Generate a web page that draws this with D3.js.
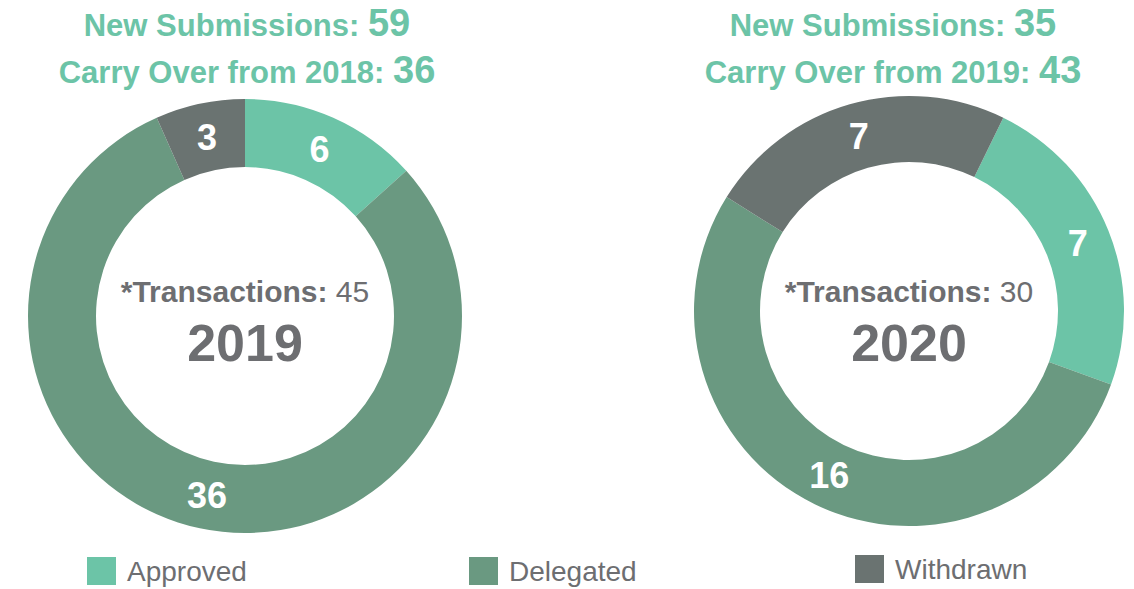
<!DOCTYPE html>
<html>
<head>
<meta charset="utf-8">
<script src="https://cdn.jsdelivr.net/npm/d3@7"></script>
<style>
  body { margin: 0; background: #fff; }
  svg { display: block; font-family: "Liberation Sans", Arial, sans-serif; }
</style>
</head>
<body>
<div id="chart"></div>
<script>
// values
var categories = ['Approved', 'Delegated', 'Withdrawn'];
var years = ['2019', '2020'];
var values2019 = [6, 36, 3];
var values2020 = [7, 16, 7];
var newSubmissions = [59, 35];
var carryOver = [36, 43];
var carryFromYear = ['2018', '2019'];
var transactions = [45, 30];

var colors = ['#6cc4a7', '#6a9981', '#6a7371'];
var green = '#6cc4a7';
var grey = '#6d6e71';

var width = 1134, height = 589;

// per-donut layout: centre, radii, rotation of the first slice, title centre
var donuts = [
  {cx: 245, cy: 316, outer: 217, inner: 149, rotate: 0, titleX: 247, values: values2019},
  {cx: 909, cy: 311, outer: 215, inner: 149, rotate: 26, titleX: 893, values: values2020}
];
// baselines of the centre texts (same for both donuts)
var transY = 302, yearY = 361;

var svg = d3.select('#chart')
  .append('svg')
  .attr('width', width)
  .attr('height', height);

var color = d3.scaleOrdinal().domain(categories).range(colors);

donuts.forEach(function(cfg, k) {
  var rot = cfg.rotate * Math.PI / 180;
  var pie = d3.pie()
    .sort(null)
    .value(function(d) { return d.value; })
    .startAngle(rot)
    .endAngle(rot + 2 * Math.PI);

  var arc = d3.arc().innerRadius(cfg.inner).outerRadius(cfg.outer);
  var labelArc = d3.arc()
    .innerRadius((cfg.inner + cfg.outer) / 2)
    .outerRadius((cfg.inner + cfg.outer) / 2);

  var data = categories.map(function(c, i) {
    return {category: c, value: cfg.values[i]};
  });

  var g = svg.append('g')
    .attr('transform', 'translate(' + cfg.cx + ',' + cfg.cy + ')');

  var slices = pie(data);

  g.selectAll('path')
    .data(slices)
    .enter()
    .append('path')
    .attr('d', arc)
    .attr('fill', function(d) { return color(d.data.category); });

  g.selectAll('text.val')
    .data(slices)
    .enter()
    .append('text')
    .attr('class', 'val')
    .attr('transform', function(d) {
      return 'translate(' + labelArc.centroid(d) + ')';
    })
    .attr('dy', '0.36em')
    .attr('text-anchor', 'middle')
    .attr('font-size', 36)
    .attr('font-weight', 'bold')
    .attr('fill', '#fff')
    .text(function(d) { return d.data.value; });

  // centre text
  var t = svg.append('text')
    .attr('x', cfg.cx)
    .attr('y', transY)
    .attr('text-anchor', 'middle')
    .attr('font-size', 30)
    .attr('fill', grey);
  t.append('tspan').attr('font-weight', 'bold').text('*Transactions:');
  t.append('tspan').text(' ' + transactions[k]);

  svg.append('text')
    .attr('x', cfg.cx)
    .attr('y', yearY)
    .attr('text-anchor', 'middle')
    .attr('font-size', 52)
    .attr('font-weight', 'bold')
    .attr('fill', grey)
    .text(years[k]);

  // titles above the donut
  var t1 = svg.append('text')
    .attr('x', cfg.titleX)
    .attr('y', 36)
    .attr('text-anchor', 'middle')
    .attr('font-weight', 'bold')
    .attr('fill', green);
  t1.append('tspan').attr('font-size', 31).text('New Submissions: ');
  t1.append('tspan').attr('font-size', 38).text(newSubmissions[k]);

  var t2 = svg.append('text')
    .attr('x', cfg.titleX)
    .attr('y', 83)
    .attr('text-anchor', 'middle')
    .attr('font-weight', 'bold')
    .attr('fill', green);
  t2.append('tspan').attr('font-size', 31).text('Carry Over from ' + carryFromYear[k] + ': ');
  t2.append('tspan').attr('font-size', 38).text(carryOver[k]);
});

// legend
var legendPos = [{x: 87, y: 557}, {x: 469, y: 557}, {x: 855, y: 555}];

var legend = svg.selectAll('g.legend')
  .data(categories)
  .enter()
  .append('g')
  .attr('class', 'legend')
  .attr('transform', function(d, i) {
    return 'translate(' + legendPos[i].x + ',' + legendPos[i].y + ')';
  });

legend.append('rect')
  .attr('width', 29)
  .attr('height', 28)
  .attr('fill', function(d) { return color(d); });

legend.append('text')
  .attr('x', 40)
  .attr('y', 24)
  .attr('font-size', 28)
  .attr('fill', grey)
  .text(function(d) { return d; });
</script>
</body>
</html>
